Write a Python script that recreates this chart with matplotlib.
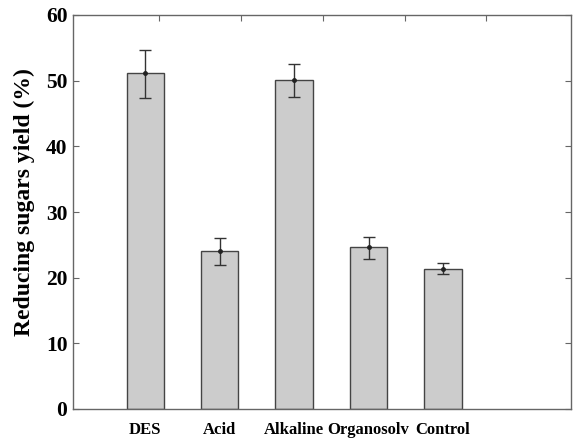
import matplotlib.pyplot as plt
import numpy as np

# data
categories = ["DES", "Acid", "Alkaline", "Organosolv", "Control"]
yield_mean = [51.1, 24.0, 50.1, 24.6, 21.3]
err_low = [3.7, 2.0, 2.6, 1.8, 0.8]
err_high = [3.5, 2.1, 2.5, 1.6, 0.9]

plt.rcParams["font.family"] = ["Liberation Serif", "DejaVu Serif"]
plt.rcParams["font.weight"] = "bold"

fig = plt.figure(figsize=(5.73, 4.38), dpi=100)
ax = fig.add_axes([73 / 573, 1 - 409 / 438, 498 / 573, 394 / 438])

x = np.arange(1, len(categories) + 1)
ax.bar(x, yield_mean, width=0.5, color="#cccccc", edgecolor="#444444", linewidth=1.0, zorder=2)
ax.errorbar(x, yield_mean, yerr=[err_low, err_high], fmt="o", color="#222222",
            markersize=2.5, ecolor="#333333", elinewidth=1.0, capsize=4, capthick=1.0, zorder=3)

ax.set_xlim(0.03, 6.72)
ax.set_ylim(0, 60)
ax.set_xticks(x)
ax.set_xticklabels(categories, fontsize=12, fontweight="bold")
ax.set_yticks(np.arange(0, 61, 10))
ax.tick_params(axis="y", labelsize=15.5, direction="in", length=4, color="#666666", right=True, pad=4)
ax.tick_params(axis="x", direction="in", length=4, color="#666666", pad=9)
ax.set_ylabel("Reducing sugars yield (%)", fontsize=17, fontweight="bold")
ax.yaxis.set_label_coords(-0.077, 0.525)

for sp in ax.spines.values():
    sp.set_color("#666666")
    sp.set_linewidth(1.0)

# top axis ticks sit at slightly different positions in the original
top = ax.twiny()
top.set_xlim(0, 1)
top.set_xticks([0.173, 0.337, 0.502, 0.667, 0.829])
top.set_xticklabels([])
top.tick_params(axis="x", direction="in", length=4, color="#666666")
for sp in top.spines.values():
    sp.set_visible(False)

fig.savefig("out.png", dpi=100)
